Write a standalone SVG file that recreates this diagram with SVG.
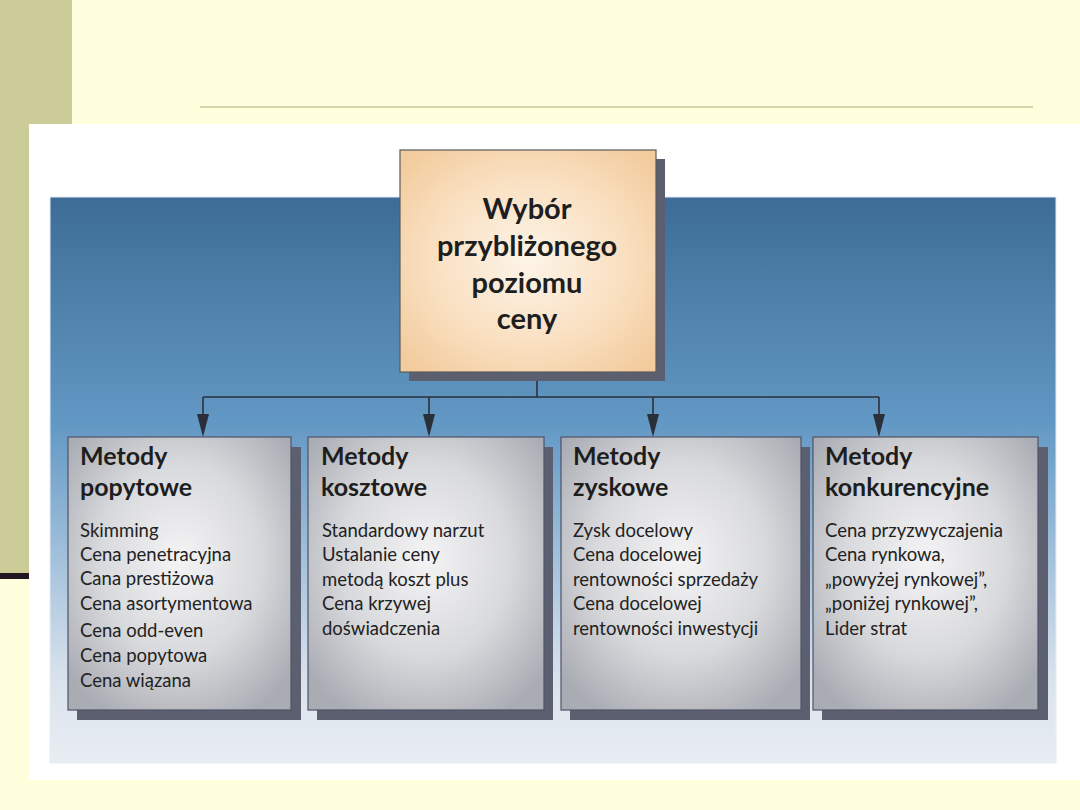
<svg xmlns="http://www.w3.org/2000/svg" width="1080" height="810" viewBox="0 0 1080 810">
<defs>
<style>
.title{font-family:Lato,"Liberation Sans",sans-serif;font-weight:bold;font-size:25px;fill:#1e1e1e}
.top{font-family:Lato,"Liberation Sans",sans-serif;font-weight:bold;font-size:29px;fill:#1e1e1e;text-anchor:middle}
.item{font-family:Lato,"Liberation Sans",sans-serif;font-size:18.5px;fill:#222}
.box{fill:url(#gray);stroke:#4f5466;stroke-width:1.2}
.shadow{fill:#5b5f70}
.conn{stroke:#2b2f3a;stroke-width:1.6;fill:none}
</style>
<linearGradient id="bluebg" x1="0" y1="0" x2="0" y2="1">
<stop offset="0" stop-color="#3d6d96"/>
<stop offset="0.4" stop-color="#6298c4"/>
<stop offset="0.65" stop-color="#a6c3dd"/>
<stop offset="0.85" stop-color="#d9e2ec"/>
<stop offset="1" stop-color="#e9edf3"/>
</linearGradient>
<radialGradient id="gray" cx="0.5" cy="0.45" r="0.65">
<stop offset="0" stop-color="#f4f4f5"/>
<stop offset="0.55" stop-color="#d8d9dc"/>
<stop offset="1" stop-color="#a9acb3"/>
</radialGradient>
<radialGradient id="peach" cx="0.5" cy="0.5" r="0.65">
<stop offset="0" stop-color="#fdf4e8"/>
<stop offset="0.6" stop-color="#f9dfbf"/>
<stop offset="1" stop-color="#f3cc9e"/>
</radialGradient>
</defs>
<rect x="0" y="0" width="1080" height="810" fill="#ffffdd"/>
<rect x="0" y="0" width="72" height="574" fill="#cccc99"/>
<rect x="0" y="573" width="29" height="6" fill="#221522"/>
<line x1="200" y1="107" x2="1033" y2="107" stroke="#c9c99a" stroke-width="1.5"/>
<rect x="29" y="124" width="1051" height="656" fill="#ffffff"/>
<rect x="50" y="197" width="1006" height="566" fill="url(#bluebg)" stroke="#e6eef5" stroke-width="1"/>

<g id="connectors">
<line class="conn" x1="537" y1="372" x2="537" y2="397"/>
<line class="conn" x1="203" y1="397" x2="879" y2="397"/>
<line class="conn" x1="203" y1="397" x2="203" y2="416"/>
<line class="conn" x1="429" y1="397" x2="429" y2="416"/>
<line class="conn" x1="653" y1="397" x2="653" y2="416"/>
<line class="conn" x1="879" y1="397" x2="879" y2="416"/>
<path d="M197,414 L209,414 L203,437 Z" fill="#2b2f3a"/>
<path d="M423,414 L435,414 L429,437 Z" fill="#2b2f3a"/>
<path d="M647,414 L659,414 L653,437 Z" fill="#2b2f3a"/>
<path d="M873,414 L885,414 L879,437 Z" fill="#2b2f3a"/>
</g>

<g id="node-top">
<rect class="shadow" x="409" y="159" width="256" height="222"/>
<rect x="400" y="150" width="256" height="222" fill="url(#peach)" stroke="#5a5a5a" stroke-width="1.2"/>
<text class="top" x="527" y="219">Wybór</text>
<text class="top" x="527" y="256">przybliżonego</text>
<text class="top" x="527" y="293">poziomu</text>
<text class="top" x="527" y="329">ceny</text>
</g>

<g id="node-popytowe">
<rect class="shadow" x="77" y="447" width="224" height="273"/>
<rect class="box" x="68" y="437" width="223" height="273"/>
<text class="title" x="80" y="465">Metody</text>
<text class="title" x="80" y="496">popytowe</text>
<text class="item" x="80" y="537">Skimming</text>
<text class="item" x="80" y="561">Cena penetracyjna</text>
<text class="item" x="80" y="585">Cana prestiżowa</text>
<text class="item" x="80" y="610">Cena asortymentowa</text>
<text class="item" x="80" y="637">Cena odd-even</text>
<text class="item" x="80" y="662">Cena popytowa</text>
<text class="item" x="80" y="687">Cena wiązana</text>
</g>

<g id="node-kosztowe">
<rect class="shadow" x="317" y="447" width="236" height="273"/>
<rect class="box" x="308" y="437" width="236" height="273"/>
<text class="title" x="321" y="465">Metody</text>
<text class="title" x="321" y="496">kosztowe</text>
<text class="item" x="322" y="537">Standardowy narzut</text>
<text class="item" x="322" y="561">Ustalanie ceny</text>
<text class="item" x="322" y="586">metodą koszt plus</text>
<text class="item" x="322" y="610">Cena krzywej</text>
<text class="item" x="322" y="635">doświadczenia</text>
</g>

<g id="node-zyskowe">
<rect class="shadow" x="570" y="447" width="240" height="273"/>
<rect class="box" x="561" y="437" width="240" height="273"/>
<text class="title" x="573" y="465">Metody</text>
<text class="title" x="573" y="496">zyskowe</text>
<text class="item" x="573" y="537">Zysk docelowy</text>
<text class="item" x="573" y="561">Cena docelowej</text>
<text class="item" x="573" y="586">rentowności sprzedaży</text>
<text class="item" x="573" y="610">Cena docelowej</text>
<text class="item" x="573" y="635">rentowności inwestycji</text>
</g>

<g id="node-konkurencyjne">
<rect class="shadow" x="822" y="447" width="226" height="273"/>
<rect class="box" x="813" y="437" width="225" height="273"/>
<text class="title" x="825" y="465">Metody</text>
<text class="title" x="825" y="496">konkurencyjne</text>
<text class="item" x="825" y="537">Cena przyzwyczajenia</text>
<text class="item" x="825" y="561">Cena rynkowa,</text>
<text class="item" x="825" y="586">„powyżej rynkowej”,</text>
<text class="item" x="825" y="610">„poniżej rynkowej”,</text>
<text class="item" x="825" y="635">Lider strat</text>
</g>
</svg>
